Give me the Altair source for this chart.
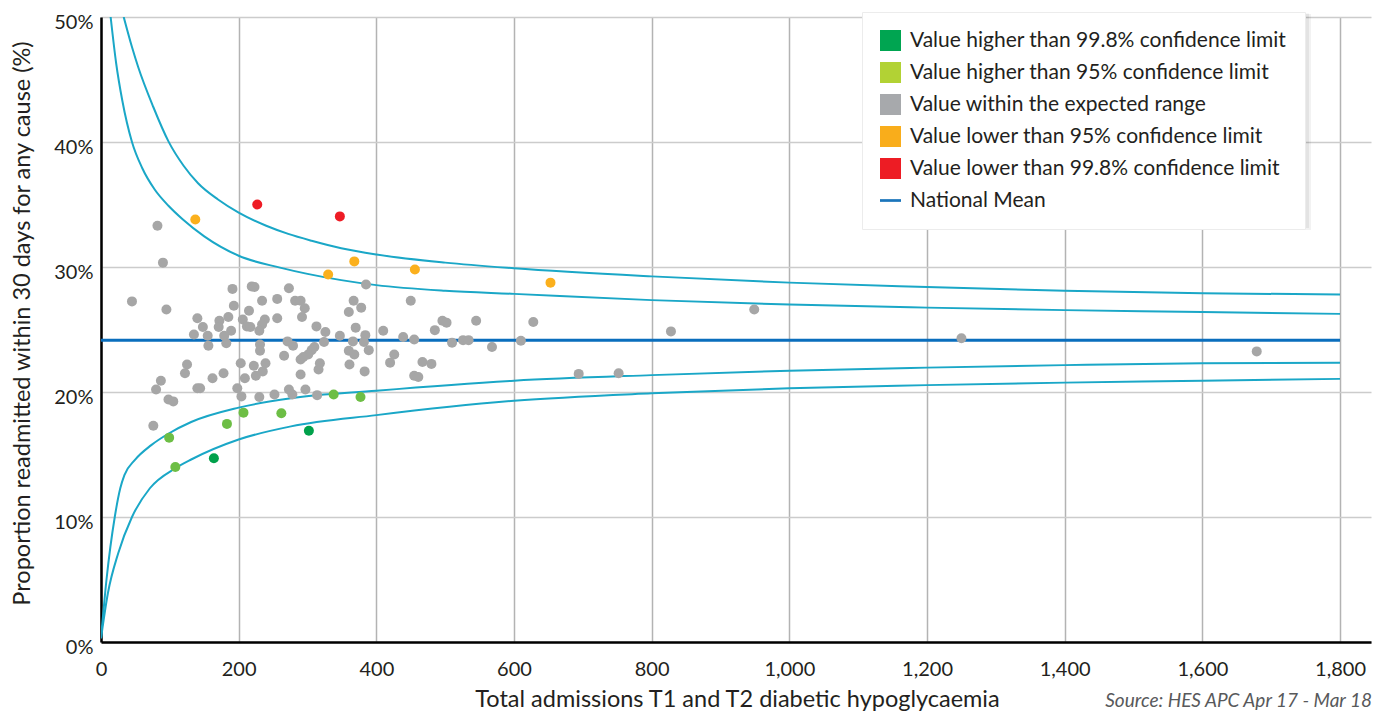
import altair as alt
import pandas as pd

# ---------------- data ----------------
categories = [
    "Value higher than 99.8% confidence limit",
    "Value higher than 95% confidence limit",
    "Value within the expected range",
    "Value lower than 95% confidence limit",
    "Value lower than 99.8% confidence limit",
]
legend_labels = categories + ["National Mean"]
legend_colors = ["#00a551", "#b2d234", "#a7a9ac", "#f9ad1b", "#ed1c24", "#1b75bb"]
point_colors = ["#00a14b", "#6dbe45", "#a6a6a6", "#fbb01d", "#ee1c25"]
legend_shapes = ["square"] * 5 + ["M-1,-0.13L1,-0.13L1,0.13L-1,0.13Z"]

gray_x = [82, 90, 45, 95, 191, 219, 223, 273, 234, 256, 282, 290, 193, 215, 296, 292,
          140, 172, 185, 206, 238, 256, 148, 171, 212, 217, 234, 313, 189, 230, 326,
          135, 155, 179, 347, 182, 156, 231, 231, 271, 279, 324, 310, 306, 301, 294,
          290, 318, 316, 266, 239, 222, 203, 235, 225, 209, 290, 125, 122, 178, 162,
          87, 80, 140, 144, 198, 204, 230, 252, 273, 278, 297, 314, 98, 105, 76,
          385, 450, 367, 360, 378, 370, 410, 485, 496, 502, 545, 384, 382, 366, 439,
          455, 510, 526, 534, 389, 360, 368, 361, 383, 426, 420, 467, 480, 455, 461,
          628, 828, 949, 568, 610, 694, 752, 1679, 1250]
gray_y = [33.3, 30.35, 27.25, 26.6, 28.25, 28.45, 28.4, 28.3, 27.3, 27.45, 27.3, 27.3,
          26.9, 26.5, 26.7, 26.0, 25.9, 25.7, 26.0, 25.8, 25.8, 25.9, 25.2, 25.2, 25.25,
          25.2, 25.4, 25.25, 24.9, 24.9, 24.8, 24.6, 24.5, 24.5, 24.5, 23.9, 23.7, 23.8,
          23.3, 24.05, 23.7, 24.0, 23.6, 23.35, 23.0, 22.8, 22.6, 22.3, 21.8, 22.9, 22.3,
          22.1, 22.3, 21.65, 21.3, 21.1, 21.4, 22.2, 21.5, 21.5, 21.1, 20.9, 20.2, 20.3,
          20.3, 20.3, 19.65, 19.6, 19.8, 20.2, 19.8, 20.2, 19.75, 19.4, 19.25, 17.3,
          28.6, 27.3, 27.3, 26.4, 26.75, 25.15, 24.9, 24.95, 25.7, 25.55, 25.7, 24.55,
          24.0, 24.05, 24.4, 24.2, 23.95, 24.15, 24.15, 23.35, 23.3, 23.0, 22.2, 21.65,
          23.0, 22.35, 22.4, 22.25, 21.3, 21.2, 25.6, 24.85, 26.6, 23.6, 24.1, 21.45,
          21.5, 23.25, 24.3]
lightgreen_x = [99, 108, 183, 207, 262, 338, 377]
lightgreen_y = [16.35, 14.0, 17.45, 18.35, 18.3, 19.8, 19.6]
darkgreen_x = [164, 302]
darkgreen_y = [14.7, 16.9]
orange_x = [137, 330, 368, 456, 653]
orange_y = [33.8, 29.4, 30.45, 29.8, 28.75]
red_x = [227, 347]
red_y = [35.0, 34.05]

upper998_x = [33, 45, 54, 76, 98, 120, 141, 170, 200, 240, 272, 306, 349, 400, 500, 600,
              800, 1000, 1200, 1400, 1600, 1800]
upper998_y = [50, 47.6, 46.0, 42.8, 40.05, 38.1, 36.7, 35.4, 34.35, 33.3, 32.65, 32.1, 31.5,
              31.0, 30.35, 29.9, 29.25, 28.75, 28.4, 28.1, 27.9, 27.8]
upper95_x = [14, 22, 31, 45, 60, 78, 98, 119, 150, 200, 260, 300, 349, 400, 500, 600, 800,
             1000, 1200, 1400, 1600, 1800]
upper95_y = [50, 46.3, 43.3, 40.0, 37.9, 36.2, 34.9, 33.8, 32.45, 30.9, 29.95, 29.45, 28.95,
             28.55, 28.1, 27.85, 27.35, 27.0, 26.75, 26.55, 26.4, 26.25]
lower95_x = [0, 8, 20, 28, 34, 49, 73, 99, 131, 200, 276, 400, 600, 800, 1000, 1200, 1400, 1600, 1800]
lower95_y = [0.3, 5.0, 10.0, 12.3, 13.35, 14.55, 15.75, 16.7, 17.6, 18.75, 19.5, 20.1, 20.9, 21.35,
             21.7, 21.95, 22.15, 22.3, 22.35]
lower998_x = [0, 10, 25, 45, 71, 108, 131, 200, 276, 400, 600, 800, 1000, 1200, 1400, 1600, 1800]
lower998_y = [0.3, 3.9, 7.1, 10.0, 12.3, 13.9, 14.6, 16.2, 17.25, 18.15, 19.3, 19.9, 20.3, 20.55,
              20.75, 20.9, 21.05]

mean_value = 24.15
mean_x = [0, 1800]

x_ticks = [0, 200, 400, 600, 800, 1000, 1200, 1400, 1600, 1800]
y_ticks = [0, 10, 20, 30, 40, 50]

x_title = "Total admissions T1 and T2 diabetic hypoglycaemia"
y_title = "Proportion readmitted within 30 days for any cause (%)"
source_text = "Source: HES APC Apr 17 - Mar 18"

# ---------------- tables ----------------
pts = []
for xs, ys, cat in [(darkgreen_x, darkgreen_y, categories[0]),
                    (lightgreen_x, lightgreen_y, categories[1]),
                    (gray_x, gray_y, categories[2]),
                    (orange_x, orange_y, categories[3]),
                    (red_x, red_y, categories[4])]:
    for a, b in zip(xs, ys):
        pts.append({"x": a, "y": b, "category": cat})
points_df = pd.DataFrame(pts)

crv = []
for xs, ys, name in [(upper998_x, upper998_y, "u998"), (upper95_x, upper95_y, "u95"),
                     (lower95_x, lower95_y, "l95"), (lower998_x, lower998_y, "l998")]:
    for a, b in zip(xs, ys):
        crv.append({"x": a, "y": b, "series": name})
curve_df = pd.DataFrame(crv)

mean_df = pd.DataFrame({"x": mean_x, "y": [mean_value] * len(mean_x)})
legend_df = pd.DataFrame({"label": legend_labels, "x": [None] * 6, "y": [None] * 6})
source_df = pd.DataFrame({"text": [source_text]})
shadow_df = pd.DataFrame({"k": [1]})

FONT = "Lato"
TXT = "#231f20"

x_enc = alt.X("x:Q", scale=alt.Scale(domain=[0, 1845], nice=False, zero=False),
              axis=alt.Axis(values=x_ticks, format=",d", labelFont=FONT, labelFontSize=20,
                            labelColor=TXT, labelPadding=17, labelFlush=False, tickSize=0,
                            domainColor="#000000", domainWidth=2.5, grid=True,
                            gridColor="#b3b3b3", gridWidth=1.5, title=x_title,
                            titleFont=FONT, titleFontSize=23.5, titleFontWeight="normal",
                            titleColor=TXT, titleX=636, titleY=57, titleBaseline="middle",
                            titleAlign="center"))
y_enc = alt.Y("y:Q", scale=alt.Scale(domain=[0, 50], nice=False),
              axis=alt.Axis(values=y_ticks, labelExpr="datum.value + '%'", labelFont=FONT,
                            labelFontSize=20, labelColor=TXT, labelPadding=8, labelOffset=5,
                            tickSize=0, domainColor="#000000", domainWidth=2.5, grid=True,
                            gridColor="#cccccc", gridWidth=1.5, title=y_title,
                            titleFont=FONT, titleFontSize=23.5, titleFontWeight="normal",
                            titleColor=TXT, titleX=-79, titleY=306, titleBaseline="middle",
                            titleAlign="center", titleAngle=270))

curves = alt.Chart(curve_df).mark_line(color="#1aa7c7", strokeWidth=2, interpolate="monotone",
                                       clip=True).encode(x=x_enc, y=y_enc, detail="series:N")
mean = alt.Chart(mean_df).mark_line(color="#0a6ebd", strokeWidth=3).encode(x=x_enc, y=y_enc)
points = alt.Chart(points_df).mark_circle(size=100, opacity=1).encode(
    x=x_enc, y=y_enc,
    fill=alt.Fill("category:N", scale=alt.Scale(domain=categories, range=point_colors), legend=None),
)

# soft shadow behind the legend box
shadow1 = alt.Chart(shadow_df).mark_rect(color="#000000", opacity=0.05).encode(
    x=alt.value(762), x2=alt.value(1210), y=alt.value(-3), y2=alt.value(213))
shadow2 = alt.Chart(shadow_df).mark_rect(color="#000000", opacity=0.06).encode(
    x=alt.value(762), x2=alt.value(1208), y=alt.value(-3.5), y2=alt.value(211))

leg = alt.Legend(title=None, orient="none", legendX=761, legendY=-5, fillColor="#ffffff",
                 strokeColor="#ececec", padding=18, symbolSize=441, symbolStrokeWidth=0,
                 symbolOpacity=1, labelFont=FONT, labelFontSize=21, labelColor=TXT,
                 labelLimit=600, labelOffset=9, rowPadding=10)
legend_layer = alt.Chart(legend_df).mark_point(filled=True, opacity=1).encode(
    x=x_enc, y=y_enc,
    color=alt.Color("label:N", scale=alt.Scale(domain=legend_labels, range=legend_colors), legend=leg),
    shape=alt.Shape("label:N", scale=alt.Scale(domain=legend_labels, range=legend_shapes), legend=leg),
)

source = alt.Chart(source_df).mark_text(align="right", baseline="middle", font=FONT,
                                        fontStyle="italic", fontSize=19, color="#58595b").encode(
    x=alt.value(1271), y=alt.value(683.5), text="text:N")

chart = alt.layer(curves, mean, points, shadow1, shadow2, legend_layer, source).properties(
    width=1270, height=625,
    padding={"left": 93, "top": 9, "right": 8, "bottom": 72},
    autosize=alt.AutoSizeParams(type="none"),
).configure_view(stroke="transparent")

chart.save("out.html", embed_options={"renderer": "svg", "actions": False})
